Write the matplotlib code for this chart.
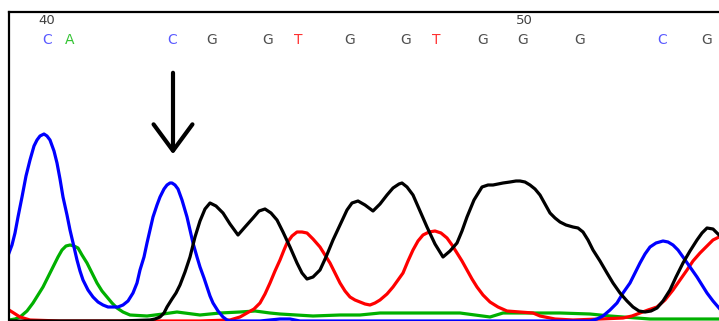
import matplotlib
matplotlib.use("Agg")
import matplotlib.pyplot as plt

# trace samples: scan position, signal
c_x = [9, 12, 15, 18, 22, 26, 30, 34, 37, 40, 44, 47, 50, 54, 57, 60, 63, 67, 70, 74, 77, 80, 83, 88, 93, 98,
       103, 108, 113, 118, 123, 128, 133, 137, 140, 144, 147, 150, 153, 157, 160, 164, 167, 170, 172, 175,
       178, 182, 187, 190, 193, 197, 200, 204, 207, 210, 213, 218, 223, 227, 230, 260, 280, 290, 300,
       590, 597, 603, 610, 617, 623, 630, 635, 640, 645, 650, 656, 663, 668, 673, 678, 683, 690, 697, 702,
       707, 713, 719, 725]
c_y = [68, 76, 88, 104, 124, 145, 161, 175, 181, 185, 187, 185, 181, 170, 158, 142, 124, 106, 91, 74, 61, 50,
       41, 31, 24, 19, 16, 14, 14, 14, 16, 20, 28, 38, 51, 64, 78, 91, 104, 116, 124, 132, 136, 138, 138, 136,
       132, 121, 104, 91, 78, 64, 54, 43, 34, 25, 18, 10, 4, 1, 0, 0, 2, 2, 0,
       0, 2, 5, 11, 18, 28, 38, 48, 58, 67, 74, 78, 80, 79, 76, 71, 64, 54, 44, 36,
       28, 20, 13, 6]

a_x = [9, 15, 20, 27, 33, 38, 43, 48, 53, 58, 62, 66, 70, 74, 78, 82, 87, 92, 97, 102, 107, 112, 117, 123,
       130, 147, 163, 177, 200, 220, 240, 255, 270, 280, 313, 340, 360, 380, 420, 460, 475, 490, 503, 540,
       560, 590, 610, 623, 650, 700, 725]
a_y = [1, 2, 4, 10, 18, 26, 34, 44, 54, 64, 71, 75, 76, 75, 73, 66, 58, 48, 38, 30, 24, 18, 13, 9,
       6, 5, 7, 9, 6, 8, 9, 10, 8, 7, 5, 6, 6, 8, 8, 8, 6, 4, 8, 8,
       8, 7, 5, 4, 2, 2, 2]

t_x = [9, 20, 30, 60, 100, 150, 200, 230, 240, 247, 254, 260, 265, 270, 275, 280, 284, 287, 292, 297, 302,
       307, 313, 320, 325, 330, 335, 340, 345, 350, 355, 360, 365, 370, 375, 380, 387, 393, 398, 403, 408,
       413, 418, 423, 429, 435, 441, 447, 452, 457, 462, 467, 472, 477, 483, 490, 498, 507, 520, 533, 540,
       555, 573, 600, 623, 632, 640, 648, 657, 665, 673, 680, 687, 693, 700, 707, 713, 719, 725]
t_y = [11, 4, 1, 0, 0, 0, 0, 1, 4, 8, 12, 18, 27, 38, 50, 61, 71, 78, 85, 89, 89,
       88, 82, 74, 66, 58, 48, 38, 30, 24, 21, 19, 17, 16, 18, 21, 27, 34, 41, 48, 60,
       71, 80, 86, 89, 90, 88, 83, 76, 68, 60, 51, 42, 34, 26, 19, 14, 10, 9, 8, 5,
       2, 1, 2, 3, 5, 8, 11, 14, 21, 31, 41, 51, 60, 68, 75, 81, 84, 86]

g_x = [9, 60, 120, 150, 155, 160, 164, 167, 172, 176, 180, 185, 190, 195, 200, 205, 210, 216, 223, 230, 238,
       245, 253, 259, 265, 271, 277, 283, 290, 297, 302, 307, 313, 320, 326, 333, 340, 347, 352, 358, 365,
       373, 380, 387, 393, 399, 402, 407, 413, 420, 427, 435, 443, 450, 457, 462, 467, 474, 482, 488, 493,
       498, 503, 510, 516, 520, 525, 530, 535, 540, 545, 550, 555, 560, 566, 573, 578, 583, 588, 593, 600,
       607, 613, 620, 627, 633, 639, 645, 651, 657, 663, 670, 676, 683, 690, 697, 702, 707, 713, 719, 725]
g_y = [0, 0, 0, 1, 2, 4, 8, 14, 22, 28, 36, 49, 64, 84, 100, 112, 118, 115, 108, 97, 86,
       94, 103, 110, 112, 108, 101, 89, 74, 58, 48, 42, 44, 51, 64, 81, 96, 111, 118, 120, 116,
       110, 117, 126, 133, 137, 138, 134, 126, 110, 94, 77, 64, 70, 78, 90, 104, 121, 134, 136, 136,
       137, 138, 139, 140, 140, 139, 136, 132, 126, 117, 108, 103, 99, 96, 94, 93, 89, 81, 71, 60,
       48, 38, 28, 20, 14, 10, 9, 10, 13, 20, 31, 44, 58, 70, 81, 88, 93, 92, 86, 82]

bases = ["C", "A", "C", "G", "G", "T", "G", "G", "T", "G", "G", "G", "C", "G"]
base_pos = [47, 70, 172, 212, 268, 298, 350, 406, 436, 483, 523, 580, 662, 707]
tick_labels = ["40", "50"]
tick_pos = [47, 524]

base_colors = {"A": "#33c433", "C": "#5a5aff", "G": "#505050", "T": "#ff3030"}

fig = plt.figure(figsize=(7.19, 3.21), dpi=100)
ax = fig.add_axes([9 / 719, 0, 730 / 719, 309 / 321])
ax.set_xlim(9, 739)
ax.set_ylim(0, 309)

lw = 2.3
ax.plot(a_x, a_y, color="#00b000", lw=lw, solid_joinstyle="round")
ax.plot(t_x, t_y, color="#ff0000", lw=lw, solid_joinstyle="round")
ax.plot(c_x, c_y, color="#0000ff", lw=lw, solid_joinstyle="round")
ax.plot(g_x, g_y, color="#000000", lw=lw, solid_joinstyle="round")

for b, x in zip(bases, base_pos):
    ax.text(x, 281, b, color=base_colors[b], fontsize=10, ha="center", va="center")
for lab, x in zip(tick_labels, tick_pos):
    ax.text(x, 300, lab, color="#404040", fontsize=9.5, ha="center", va="center")

ax.annotate("", xy=(173, 164), xytext=(173, 251),
            arrowprops=dict(arrowstyle="->, head_length=1.9, head_width=1.4",
                            color="black", lw=3, mutation_scale=10))

ax.set_xticks([])
ax.set_yticks([])
for s in ["bottom", "right"]:
    ax.spines[s].set_visible(False)
for s in ["top", "left"]:
    ax.spines[s].set_linewidth(1.6)

fig.savefig("out.png", dpi=100)
